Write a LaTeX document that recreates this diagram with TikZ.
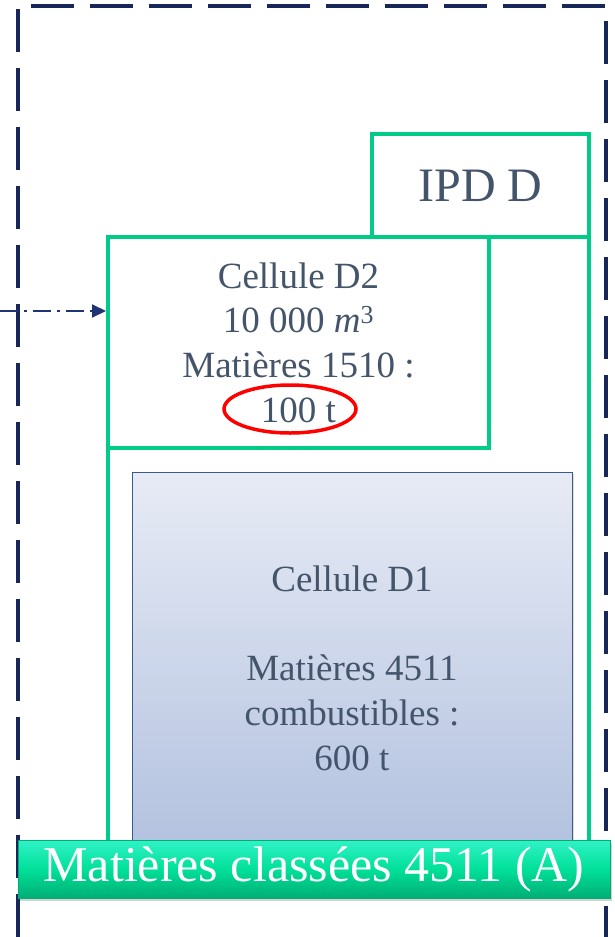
\documentclass[tikz,border=0pt]{standalone}
\usepackage{fontspec}
\setmainfont{Liberation Serif}
\usetikzlibrary{arrows.meta,shadows,shapes.geometric}
\definecolor{navy}{HTML}{18275A}
\definecolor{arrowblue}{HTML}{1F3474}
\definecolor{grn}{HTML}{00CC88}
\definecolor{txt}{HTML}{44546A}
\definecolor{d1top}{HTML}{E7EBF5}
\definecolor{d1bot}{HTML}{B2C1DF}
\definecolor{d1line}{HTML}{3A5A8C}
\definecolor{bantop}{HTML}{30F2C6}
\definecolor{banmid}{HTML}{00E098}
\definecolor{banbot}{HTML}{00AE74}
\tikzset{
  greenbox/.style={draw=grn, line width=4pt, fill=white, anchor=north west, inner sep=0pt},
  celltext/.style={text=txt, align=center, font=\fontsize{37}{44.7}\selectfont},
}
\begin{document}
\begin{tikzpicture}[x=1pt,y=-1pt]
\useasboundingbox (0,0) rectangle (615,937);
% outer dashed border
\draw[navy, line width=4pt, dash pattern=on 43pt off 16pt] (18,937) -- (18,6) -- (606,6) -- (606,937);
% big green enclosure
\node[greenbox, minimum width=481pt, minimum height=615pt] (ipdbody) at (106,235) {};
% IPD D header
\node[greenbox, minimum width=217pt, minimum height=103pt, text=txt, font=\fontsize{48}{56}\selectfont] (ipd) at (370,132) {IPD D};
% Cellule D2
\node[greenbox, minimum width=381pt, minimum height=211pt, celltext] (d2) at (106,235)
  {Cellule D2\\10 000 {\itshape m}\textsuperscript{3}\\Matières 1510 :\\100 t};
% red ellipse
\node[ellipse, draw=red, line width=3.5pt, minimum width=132pt, minimum height=48pt, inner sep=0pt] (circ) at (290,409) {};
% Cellule D1
\node[draw=d1line, line width=1.2pt, top color=d1top, bottom color=d1bot, anchor=north west,
      minimum width=440pt, minimum height=380pt, inner sep=0pt,
      drop shadow={shadow xshift=1.5pt, shadow yshift=-1.5pt, opacity=0.25}] (d1) at (132,472) {};
\node[celltext] (d1text) at (352,668) {Cellule D1\\[44.7pt]Matières 4511\\combustibles :\\600 t};
% banner
\node[anchor=north west, minimum width=592pt, minimum height=58pt, inner sep=0pt,
      top color=bantop, bottom color=banbot, middle color=banmid, draw=banbot, line width=0.8pt,
      drop shadow={shadow xshift=2pt, shadow yshift=-3pt, opacity=0.35}] (banner) at (18,840) {};
\node[text=white, font=\fontsize{50}{56}\selectfont] (bantext) at (314,869) {Matières classées 4511 (A)};
% dash-dot arrow
\coordinate (src) at (0,311);
\draw[arrowblue, line width=2pt, dash pattern=on 18pt off 6pt on 3pt off 6pt,
      -{Triangle[length=14pt, width=13pt]}] (src) -- (src -| d2.west);
\end{tikzpicture}
\end{document}
